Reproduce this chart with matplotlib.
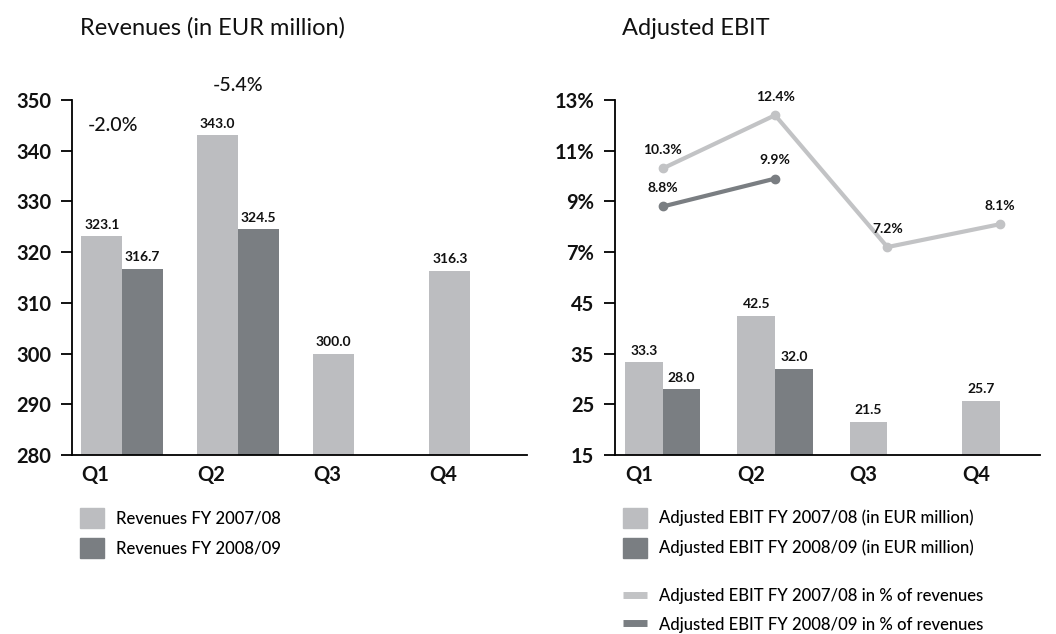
import matplotlib.pyplot as plt
import numpy as np
from matplotlib.patches import Patch
from matplotlib.lines import Line2D

plt.rcParams['font.family'] = ['Lato', 'DejaVu Sans']

# data
quarters = ['Q1', 'Q2', 'Q3', 'Q4']
rev_0708 = [323.1, 343.0, 300.0, 316.3]
rev_0809 = [316.7, 324.5]
ebit_0708 = [33.3, 42.5, 21.5, 25.7]
ebit_0809 = [28.0, 32.0]
ebit_pct_0708 = [10.3, 12.4, 7.2, 8.1]
ebit_pct_0809 = [8.8, 9.9]

light = '#bcbdc0'
dark = '#7a7e82'
line_light = '#c2c3c5'
txt = '#111111'

fig = plt.figure(figsize=(10.56, 6.34), dpi=100)
ax1 = fig.add_axes([0.0682, 0.2823, 0.4308, 0.56])
ax2 = fig.add_axes([0.5824, 0.2823, 0.4026, 0.56])


def style_ticks(ax):
    ax.tick_params(axis='y', length=8, width=1.3, pad=7)
    for lab in ax.get_yticklabels() + ax.get_xticklabels():
        lab.set_fontsize(14.5)
        lab.set_fontweight('bold')
        lab.set_color(txt)


def style_axis(ax):
    ax.spines['top'].set_visible(False)
    ax.spines['right'].set_visible(False)
    ax.spines['left'].set_linewidth(1.3)
    ax.spines['bottom'].set_linewidth(1.3)
    ax.tick_params(axis='x', length=0, pad=7)
    style_ticks(ax)


def bar_labels(ax, bars):
    for r in bars:
        ax.annotate(f'{r.get_height():.1f}', (r.get_x() + r.get_width() / 2, r.get_height()),
                    xytext=(0, 4), textcoords='offset points', ha='center', va='bottom',
                    fontsize=10, fontweight='bold', color=txt)


# ---- left: revenues
x = np.arange(len(quarters))
w = 0.35
b1 = ax1.bar(x - w / 2, rev_0708, w, color=light)
b2 = ax1.bar(x[:len(rev_0809)] + w / 2, rev_0809, w, color=dark)
ax1.set_ylim(280, 350)
ax1.set_xlim(-0.431, 3.49)
ax1.set_yticks(range(280, 351, 10))
ax1.set_xticks(x - w)
ax1.set_xticklabels(quarters, ha='left')
style_axis(ax1)
bar_labels(ax1, b1)
bar_labels(ax1, b2)

# change year on year
chg_pos = [(-0.08, 345.0), (0.0, 352.8)]
for i in range(len(rev_0809)):
    chg = (rev_0809[i] / rev_0708[i] - 1) * 100
    ax1.text(x[i] + chg_pos[i][0], chg_pos[i][1], f'{chg:.1f}%', ha='center', va='center',
             fontsize=14, fontweight='medium', color=txt, clip_on=False)

# ---- right: adjusted EBIT
w2 = 0.336
c1 = ax2.bar(x - w2 / 2, ebit_0708, w2, color=light)
c2 = ax2.bar(x[:len(ebit_0809)] + w2 / 2, ebit_0809, w2, color=dark)
ax2.set_ylim(15, 85)
ax2.set_xlim(-0.425, 3.36)
ax2.set_yticks([15, 25, 35, 45])
ax2.set_xticks(x - w2)
ax2.set_xticklabels(quarters, ha='left')
style_axis(ax2)
bar_labels(ax2, c1)
bar_labels(ax2, c2)

ax3 = ax2.twinx()
ax3.set_ylim(-1, 13)
ax3.set_yticks([7, 9, 11, 13])
ax3.set_yticklabels(['7%', '9%', '11%', '13%'])
ax3.yaxis.set_ticks_position('left')
for s in ax3.spines.values():
    s.set_visible(False)
style_ticks(ax3)

ax3.plot(x, ebit_pct_0708, color=line_light, lw=3, marker='o', ms=6, zorder=3)
ax3.plot(x[:len(ebit_pct_0809)], ebit_pct_0809, color=dark, lw=3, marker='o', ms=6, zorder=3)
for xs, vals in ((x, ebit_pct_0708), (x, ebit_pct_0809)):
    for xi, v in zip(xs, vals):
        ax3.annotate(f'{v:.1f}%', (xi, v), xytext=(0, 9), textcoords='offset points',
                     ha='center', va='bottom', fontsize=10, fontweight='bold', color=txt)

# titles
fig.text(80 / 1056, 1 - 35 / 634, 'Revenues (in EUR million)', fontsize=17, color=txt,
         ha='left', va='baseline')
fig.text(622 / 1056, 1 - 35 / 634, 'Adjusted EBIT', fontsize=17, color=txt,
         ha='left', va='baseline')

# ---- legends
leg_kw = dict(loc='upper left', frameon=False, borderpad=0, borderaxespad=0,
              handlelength=1.45, handleheight=1.45, handletextpad=0.7, labelspacing=0.6,
              prop={'size': 12, 'weight': 'medium'})
fig.legend(handles=[Patch(color=light, label='Revenues FY 2007/08'),
                    Patch(color=dark, label='Revenues FY 2008/09')],
           bbox_to_anchor=(80 / 1056, 1 - 508 / 634), **leg_kw)
fig.legend(handles=[Patch(color=light, label='Adjusted EBIT FY 2007/08 (in EUR million)'),
                    Patch(color=dark, label='Adjusted EBIT FY 2008/09 (in EUR million)')],
           bbox_to_anchor=(623 / 1056, 1 - 508 / 634), **leg_kw)
line_kw = dict(leg_kw)
line_kw.update(handleheight=1.0, labelspacing=0.75)
fig.legend(handles=[Line2D([], [], color=line_light, lw=5, solid_capstyle='butt',
                           label='Adjusted EBIT FY 2007/08 in % of revenues'),
                    Line2D([], [], color=dark, lw=5, solid_capstyle='butt',
                           label='Adjusted EBIT FY 2008/09 in % of revenues')],
           bbox_to_anchor=(623 / 1056, 1 - 588 / 634), **line_kw)

fig.savefig('out.png', dpi=100)
